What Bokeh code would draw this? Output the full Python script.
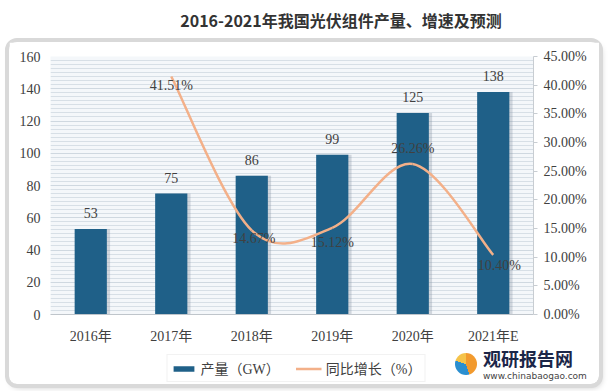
from bokeh.plotting import figure
from bokeh.models import (Range1d, LinearAxis, FixedTicker, Legend, LegendItem,
                          ColumnDataSource, Div)
from bokeh.layouts import column, row
from bokeh.transform import dodge
from bokeh.core.properties import value
from bokeh.embed import file_html
from bokeh.resources import INLINE

# ---------------- data ----------------
years = ["2016年", "2017年", "2018年", "2019年", "2020年", "2021年E"]
output_gw = [53, 75, 86, 99, 125, 138]
growth_years = ["2017年", "2018年", "2019年", "2020年", "2021年E"]
growth_pct = [41.51, 14.67, 15.12, 26.26, 10.40]
left_ticks = [0, 20, 40, 60, 80, 100, 120, 140, 160]
right_ticks = [0, 5, 10, 15, 20, 25, 30, 35, 40, 45]
title_text = "2016-2021年我国光伏组件产量、增速及预测"
series_names = ["产量（GW）", "同比增长（%）"]
brand = "观研报告网"
brand_url = "www.chinabaogao.com"

# ---------------- styles ----------------
SERIF = "'Liberation Serif', 'Noto Sans CJK SC', serif"
SANS = "'Noto Sans CJK SC', sans-serif"
TXT = "#404040"
BAR = "#1f6088"
LINE = "#f3b089"
pct_dx = [0, 2, 0, 0, 6]
pct_dy = [9, 8, 15, -15, 11]

W, H = 590, 304
p = figure(width=W, height=H, output_backend="svg", toolbar_location=None,
           x_range=Range1d(0, len(years)), y_range=Range1d(0, 160),
           min_border_left=41, min_border_right=66, min_border_top=14,
           min_border_bottom=31, border_fill_color="white",
           background_fill_color="#f4f7fa", outline_line_color=None)
p.extra_y_ranges = {"pct": Range1d(0, 45)}

x_pos = [i + 0.5 for i in range(len(years))]
pos = dict(zip(years, x_pos))
gx = [pos[y] for y in growth_years]

# grid (striped background)
minor = [v / 2 for v in range(0, 321, 5)]
yt = FixedTicker(ticks=left_ticks, minor_ticks=minor)
p.yaxis.ticker = yt
p.ygrid.ticker = yt
p.ygrid.grid_line_color = "#cfd8e0"
p.ygrid.minor_grid_line_color = "#d7dfe6"
p.xgrid.grid_line_color = None

# left axis
ax = p.yaxis[0]
ax.axis_line_color = None
ax.major_tick_line_color = None
ax.minor_tick_line_color = None
ax.major_tick_out = 0
ax.minor_tick_out = 0
ax.major_label_standoff = 10
ax.major_label_text_font = SERIF
ax.major_label_text_font_size = "14px"
ax.major_label_text_color = TXT

# bottom axis
xa = p.xaxis[0]
xa.ticker = FixedTicker(ticks=x_pos)
xa.major_label_overrides = {x: y for x, y in zip(x_pos, years)}
xa.axis_line_color = "#bfc5cb"
xa.major_tick_line_color = None
xa.minor_tick_line_color = None
xa.major_tick_out = 0
xa.major_label_standoff = 14
xa.major_label_text_font = SERIF
xa.major_label_text_font_size = "14px"
xa.major_label_text_color = TXT

# right axis
ra = LinearAxis(y_range_name="pct", ticker=FixedTicker(ticks=right_ticks))
ra.major_label_overrides = {t: f"{t:.2f}%" for t in right_ticks}
ra.axis_line_color = "#c8cdd2"
ra.major_tick_line_color = "#c8cdd2"
ra.major_tick_in = 0
ra.major_tick_out = 4
ra.minor_tick_line_color = None
ra.major_label_standoff = 6
ra.major_label_text_font = SERIF
ra.major_label_text_font_size = "14px"
ra.major_label_text_color = TXT
p.add_layout(ra, "right")

# bars (with a soft shadow)
src = ColumnDataSource(dict(x=x_pos, top=output_gw, lab=[str(v) for v in output_gw]))
p.vbar(x=dodge("x", 0.03), top="top", width=0.42, source=src, fill_color="#7d8c9a",
       fill_alpha=0.3, line_color=None)
p.vbar(x="x", top="top", width=0.4, source=src, fill_color=BAR, line_color=None)
p.text(x="x", y="top", text="lab", source=src, text_align="center",
       text_baseline="middle", y_offset=-16, text_font=value(SERIF),
       text_font_size="14px", text_color=TXT)

# smoothed growth line (Bezier segments through the data points)
n = len(gx)
seg = dict(x0=[], y0=[], x1=[], y1=[], cx0=[], cy0=[], cx1=[], cy1=[])
for i in range(n - 1):
    pm, pp = max(i - 1, 0), min(i + 2, n - 1)
    seg["x0"].append(gx[i]); seg["y0"].append(growth_pct[i])
    seg["x1"].append(gx[i + 1]); seg["y1"].append(growth_pct[i + 1])
    seg["cx0"].append(gx[i] + (gx[i + 1] - gx[pm]) / 6)
    seg["cy0"].append(growth_pct[i] + (growth_pct[i + 1] - growth_pct[pm]) / 6)
    seg["cx1"].append(gx[i + 1] - (gx[pp] - gx[i]) / 6)
    seg["cy1"].append(growth_pct[i + 1] - (growth_pct[pp] - growth_pct[i]) / 6)
p.bezier(source=ColumnDataSource(seg), y_range_name="pct", line_color=LINE, line_width=2.5)

psrc = ColumnDataSource(dict(x=gx, y=growth_pct, lab=[f"{v:.2f}%" for v in growth_pct],
                             dx=pct_dx, dy=pct_dy))
p.text(x="x", y="y", text="lab", source=psrc, y_range_name="pct", text_align="center",
       text_baseline="middle", x_offset="dx", y_offset="dy", text_font=value(SERIF),
       text_font_size="14px", text_color=TXT)

# legend (own small figure under the chart; its sample glyphs lie outside its range)
lg = figure(width=280, height=38, output_backend="svg", toolbar_location=None,
            x_range=Range1d(0, 1), y_range=Range1d(0, 1), x_axis_type=None,
            y_axis_type=None, min_border=0, outline_line_color=None,
            border_fill_color="white", background_fill_color="white",
            margin=(0, 0, 0, 147))
lg.grid.visible = False
r_bar = lg.vbar(x=[5], top=[5], bottom=[4], width=0.4, fill_color=BAR, line_color=None)
r_line = lg.line(x=[5, 6], y=[5, 5], line_color=LINE, line_width=2.5)
legend = Legend(items=[LegendItem(label=series_names[0], renderers=[r_bar]),
                       LegendItem(label=series_names[1], renderers=[r_line])],
                orientation="horizontal", location="bottom_center",
                glyph_width=26, glyph_height=7, label_text_font=SERIF,
                label_text_font_size="14px", label_text_color=TXT,
                background_fill_color="white", border_line_color="#e6e6e6",
                padding=3, margin=2, spacing=16, label_standoff=4)
lg.add_layout(legend, "center")

# watermark
wm = Div(text=(
    "<div style='display:flex;align-items:center;'>"
    "<div style='width:22px;height:22px;border-radius:50%;margin-right:6px;"
    "background:conic-gradient(#f29a2e 0 45%, #2b8fd0 45% 80%, #f5c34a 80% 100%);'></div>"
    "<div><div style=\"font:bold 18px 'Noto Sans CJK SC';color:#1b2648;line-height:25px;\">"
    + brand + "</div>"
    "<div style=\"font:9px 'DejaVu Sans';color:#444;line-height:11px;\">" + brand_url +
    "</div></div></div>"), width=140, height=38, margin=(0, 0, 0, 19))

panel = column(p, row(lg, wm), margin=(0, 0, 0, 9),
               styles={"outline": "4px solid #d9d9d9", "border-radius": "8px",
                       "box-shadow": "2px 3px 6px rgba(0,0,0,0.25)"})

title = Div(text=("<div style=\"width:518px;margin-left:82px;text-align:center;"
                  "font:bold 16px 'Noto Sans CJK SC';color:#333;padding-top:8px;"
                  "line-height:24px;\">" + title_text + "</div>"),
            width=600, height=42, margin=0)

layout = column(title, panel)
open("out.html", "w").write(file_html(layout, INLINE))
